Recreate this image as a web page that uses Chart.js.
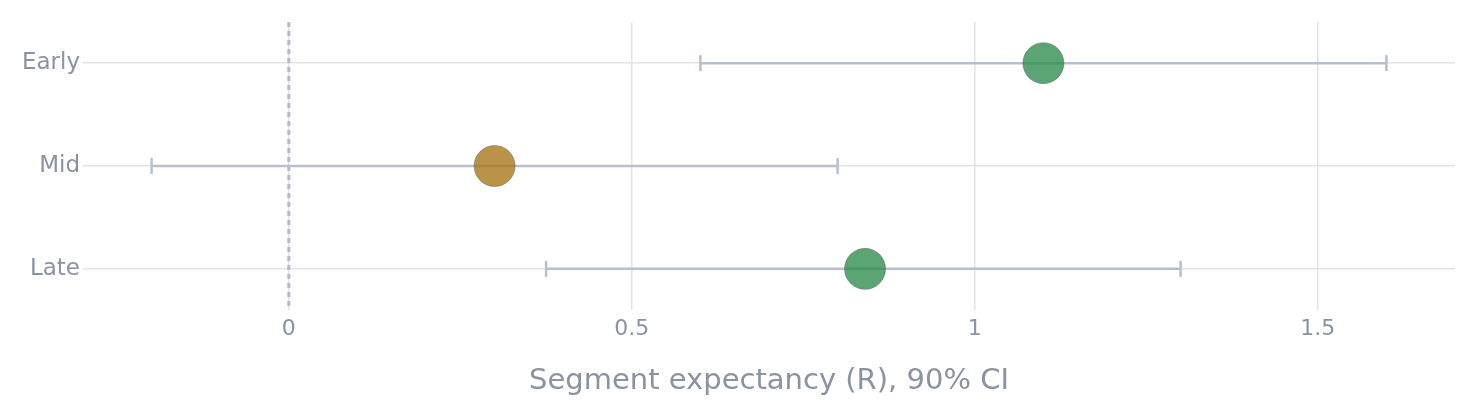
<!DOCTYPE html>
<html>
<head>
<meta charset="utf-8">
<script src="https://cdn.jsdelivr.net/npm/chart.js@4/dist/chart.umd.min.js"></script>
<style>
  html, body { margin: 0; padding: 0; background: #fff; }
  #wrap { width: 1477px; height: 418px; position: relative; }
</style>
</head>
<body>
<div id="wrap"><canvas id="ci-chart"></canvas></div>
<script>
// segments, top to bottom
const categories = ["Early", "Mid", "Late"];
const pointValues = [1.1, 0.3, 0.84];
const ciLow = [0.6, -0.2, 0.375];
const ciHigh = [1.6, 0.8, 1.3];
const pointColors = ["rgba(44,140,75,0.78)", "rgba(166,116,20,0.78)", "rgba(44,140,75,0.78)"];
const xTicks = [0, 0.5, 1, 1.5];
const zeroLine = 0;

const textColor = "#8a93a1";
const gridColor = "#e4e4e6";
const barColor = "#b7c0cf";
const fontFamily = "'DejaVu Sans', Verdana, sans-serif";

// vertical dashed reference line at zero
const zeroLinePlugin = {
    id: "zeroLine",
    beforeDatasetsDraw(chart) {
        const { ctx, chartArea, scales } = chart;
        const x = scales.x.getPixelForValue(zeroLine);
        ctx.save();
        ctx.strokeStyle = "#b3bacb";
        ctx.lineWidth = 3;
        ctx.setLineDash([5, 4]);
        ctx.beginPath();
        ctx.moveTo(x, chartArea.top);
        ctx.lineTo(x, chartArea.bottom);
        ctx.stroke();
        ctx.restore();
    }
};

const errorSets = categories.map((cat, i) => ({
    type: "line",
    data: [{ x: ciLow[i], y: i }, { x: ciHigh[i], y: i }],
    borderColor: barColor,
    borderWidth: 2.5,
    pointStyle: "line",
    pointRotation: 90,
    pointRadius: 8,
    pointBorderWidth: 2.5,
    pointBorderColor: barColor,
    pointBackgroundColor: barColor,
    order: 2
}));

const pointSet = {
    type: "scatter",
    data: categories.map((cat, i) => ({ x: pointValues[i], y: i })),
    backgroundColor: pointColors,
    borderColor: "rgba(90,90,90,0.45)",
    borderWidth: 1,
    pointRadius: 20.5,
    order: 1
};

new Chart(document.getElementById("ci-chart"), {
    type: "scatter",
    data: { datasets: [pointSet, ...errorSets] },
    plugins: [zeroLinePlugin],
    options: {
        responsive: true,
        maintainAspectRatio: false,
        animation: false,
        layout: { padding: { top: 22, right: 22, left: 0, bottom: 0 } },
        plugins: {
            legend: { display: false },
            tooltip: { enabled: false }
        },
        scales: {
            x: {
                type: "linear",
                min: -0.3,
                max: 1.7,
                afterBuildTicks: (scale) => { scale.ticks = xTicks.map(v => ({ value: v })); },
                afterFit: (scale) => { scale.height = 108; },
                grid: { color: gridColor, lineWidth: 1.5, drawTicks: false },
                border: { display: false },
                ticks: {
                    color: textColor,
                    font: { family: fontFamily, size: 22 },
                    padding: 6,
                    maxRotation: 0,
                    callback: (v) => String(v)
                },
                title: {
                    display: true,
                    text: "Segment expectancy (R), 90% CI",
                    color: textColor,
                    font: { family: fontFamily, size: 29 },
                    padding: { top: 0, bottom: 19 }
                }
            },
            y: {
                type: "linear",
                reverse: true,
                min: -0.4,
                max: 2.4,
                afterBuildTicks: (scale) => { scale.ticks = categories.map((c, i) => ({ value: i })); },
                afterFit: (scale) => { scale.width = 83; },
                grid: { color: gridColor, lineWidth: 1.5, drawTicks: false },
                border: { display: false },
                ticks: {
                    color: textColor,
                    font: { family: fontFamily, size: 23 },
                    padding: 3,
                    callback: (v) => categories[v]
                }
            }
        }
    }
});
</script>
</body>
</html>
